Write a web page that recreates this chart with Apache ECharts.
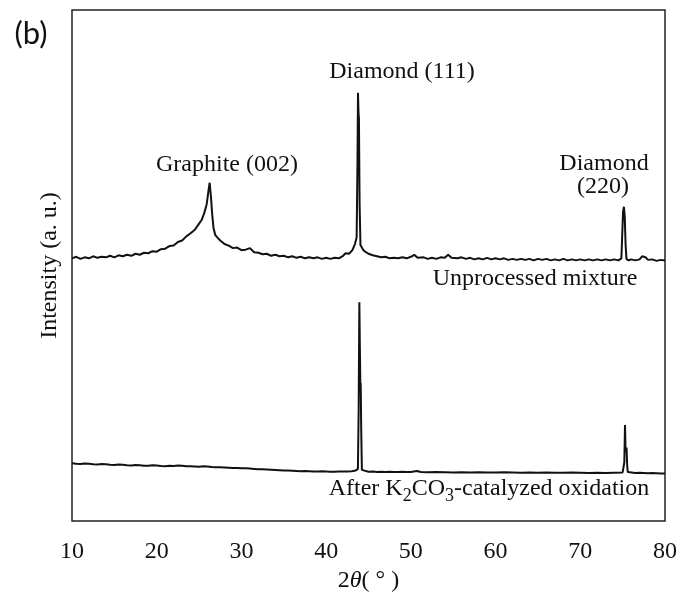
<!DOCTYPE html>
<html>
<head>
<meta charset="utf-8">
<title>XRD patterns</title>
<script src="https://cdn.jsdelivr.net/npm/echarts@6/dist/echarts.min.js"></script>
<style>
  html, body { margin: 0; padding: 0; background: #ffffff; }
  #chart { width: 680px; height: 601px; }
</style>
</head>
<body>
<div id="chart"></div>
<script>
// 2θ tick labels
const twoThetaTicks = [10, 20, 30, 40, 50, 60, 70, 80];

// Unprocessed mixture: [2θ (deg), intensity (a.u.)]
const unprocessed = [
  [10.0, 51.4], [10.5, 51.7], [11.0, 51.3], [11.5, 51.6], [12.0, 51.4], [12.5, 51.8],
  [13.0, 51.5], [13.5, 51.7], [14.0, 51.6], [14.5, 51.9], [15.0, 51.6], [15.5, 52.0],
  [16.0, 51.8], [16.5, 52.1], [17.0, 51.9], [17.5, 52.3], [18.0, 52.1], [18.5, 52.5],
  [19.0, 52.4], [19.5, 52.8], [20.0, 52.7], [20.5, 53.2], [21.0, 53.3], [21.5, 53.8],
  [22.0, 53.9], [22.5, 54.6], [23.0, 54.9], [23.5, 55.7], [24.0, 56.3], [24.5, 57.0],
  [25.0, 58.2], [25.3, 58.9], [25.6, 60.2], [25.9, 62.0], [26.1, 64.5], [26.25, 66.2],
  [26.4, 63.5], [26.55, 60.0], [26.7, 57.4], [26.9, 56.0], [27.2, 55.4], [27.5, 54.9],
  [28.0, 54.2], [28.5, 53.9], [29.0, 53.4], [29.5, 53.5], [30.0, 53.0], [30.5, 53.1],
  [31.0, 53.4], [31.5, 52.6], [32.0, 52.5], [32.5, 52.2], [33.0, 52.3], [33.5, 51.9],
  [34.0, 52.1], [34.5, 51.8], [35.0, 51.9], [35.5, 51.6], [36.0, 51.8], [36.5, 51.5],
  [37.0, 51.7], [37.5, 51.4], [38.0, 51.6], [38.5, 51.4], [39.0, 51.6], [39.5, 51.3],
  [40.0, 51.5], [40.5, 51.3], [41.0, 51.5], [41.5, 51.4], [42.0, 51.9], [42.3, 52.4],
  [42.7, 52.3], [43.1, 53.0], [43.4, 54.2], [43.6, 55.5], [43.7, 70.0], [43.76, 83.8],
  [43.82, 80.0], [43.87, 78.8], [43.95, 62.0], [44.05, 54.0], [44.2, 53.8], [44.4, 53.0],
  [44.7, 52.6], [45.0, 52.3], [45.5, 52.0], [46.0, 51.8], [46.5, 51.6], [47.0, 51.7],
  [47.5, 51.4], [48.0, 51.5], [48.5, 51.4], [49.0, 51.6], [49.5, 51.4], [50.0, 51.7],
  [50.4, 52.1], [50.8, 51.5], [51.5, 51.6], [52.0, 51.3], [52.5, 51.5], [53.0, 51.3],
  [53.5, 51.6], [54.0, 51.5], [54.4, 52.1], [54.8, 51.5], [55.5, 51.4], [56.0, 51.6],
  [56.5, 51.3], [57.0, 51.5], [57.5, 51.2], [58.0, 51.4], [58.5, 51.2], [59.0, 51.5],
  [59.5, 51.2], [60.0, 51.4], [60.5, 51.2], [61.0, 51.4], [61.5, 51.1], [62.0, 51.3],
  [62.5, 51.1], [63.0, 51.3], [63.5, 51.1], [64.0, 51.3], [64.5, 51.0], [65.0, 51.3],
  [65.5, 51.1], [66.0, 51.3], [66.5, 51.0], [67.0, 51.2], [67.5, 51.0], [68.0, 51.3],
  [68.5, 51.0], [69.0, 51.2], [69.5, 51.0], [70.0, 51.2], [70.5, 51.0], [71.0, 51.2],
  [71.5, 51.0], [72.0, 51.2], [72.5, 51.0], [73.0, 51.2], [73.5, 51.0], [74.0, 51.2],
  [74.5, 51.0], [74.85, 51.4], [74.95, 56.0], [75.05, 60.5], [75.15, 61.5], [75.25, 59.5],
  [75.35, 54.0], [75.45, 51.3], [75.7, 51.0], [76.0, 51.2], [76.5, 51.0], [77.0, 51.2],
  [77.3, 51.8], [77.5, 52.1], [77.7, 51.6], [78.0, 51.1], [78.5, 51.2], [79.0, 50.9],
  [79.5, 51.1], [80.0, 51.0]
];

// After K2CO3-catalyzed oxidation: [2θ (deg), intensity (a.u.)]
const oxidized = [
  [10.0, 11.3], [10.5, 11.2], [11.0, 11.15], [11.5, 11.25], [12.0, 11.2], [12.5, 11.1],
  [13.0, 11.05], [13.5, 11.15], [14.0, 11.1], [14.5, 11.0], [15.0, 10.95], [15.5, 11.05],
  [16.0, 11.0], [16.5, 10.9], [17.0, 10.85], [17.5, 10.95], [18.0, 10.9], [18.5, 10.8],
  [19.0, 10.8], [19.5, 10.9], [20.0, 10.85], [20.5, 10.75], [21.0, 10.7], [21.5, 10.8],
  [22.0, 10.75], [22.5, 10.85], [23.0, 10.8], [23.5, 10.7], [24.0, 10.7], [24.5, 10.65],
  [25.0, 10.6], [25.5, 10.7], [26.0, 10.65], [26.5, 10.55], [27.0, 10.5], [27.5, 10.5],
  [28.0, 10.45], [28.5, 10.4], [29.0, 10.35], [29.5, 10.35], [30.0, 10.3], [30.5, 10.3],
  [31.0, 10.25], [31.5, 10.2], [32.0, 10.15], [32.5, 10.15], [33.0, 10.1], [33.5, 10.05],
  [34.0, 10.0], [34.5, 9.95], [35.0, 9.9], [35.5, 9.9], [36.0, 9.85], [36.5, 9.8],
  [37.0, 9.75], [37.5, 9.8], [38.0, 9.75], [38.5, 9.7], [39.0, 9.7], [39.5, 9.75],
  [40.0, 9.7], [40.5, 9.65], [41.0, 9.65], [41.5, 9.7], [42.0, 9.7], [42.5, 9.7],
  [43.0, 9.75], [43.5, 9.9], [43.75, 10.2], [43.84, 22.0], [43.92, 42.8], [43.98, 34.0],
  [44.04, 26.5], [44.08, 27.0], [44.14, 18.0], [44.22, 10.0], [44.4, 9.75], [45.0, 9.65],
  [45.5, 9.7], [46.0, 9.6], [46.5, 9.65], [47.0, 9.6], [47.5, 9.65], [48.0, 9.6],
  [48.5, 9.6], [49.0, 9.65], [49.5, 9.6], [50.0, 9.6], [50.7, 9.8], [51.2, 9.6],
  [52.0, 9.55], [53.0, 9.6], [54.0, 9.55], [55.0, 9.5], [56.0, 9.55], [57.0, 9.5],
  [58.0, 9.55], [59.0, 9.5], [60.0, 9.5], [61.0, 9.55], [62.0, 9.5], [63.0, 9.45],
  [64.0, 9.5], [65.0, 9.45], [66.0, 9.5], [67.0, 9.45], [68.0, 9.45], [69.0, 9.5],
  [70.0, 9.45], [71.0, 9.4], [72.0, 9.45], [73.0, 9.4], [74.0, 9.45], [75.0, 9.5],
  [75.12, 9.7], [75.2, 11.5], [75.28, 18.8], [75.34, 14.0], [75.4, 13.5], [75.46, 14.4],
  [75.53, 11.0], [75.6, 9.6], [75.8, 9.45], [76.5, 9.4], [77.0, 9.45], [77.5, 9.4],
  [78.0, 9.35], [78.5, 9.4], [79.0, 9.35], [79.5, 9.3], [80.0, 9.3]
];

const serif = "'Liberation Serif', 'Times New Roman', serif";
const ink = '#111111';

const chart = echarts.init(document.getElementById('chart'), null, { renderer: 'canvas' });

chart.setOption({
  animation: false,
  backgroundColor: '#ffffff',
  grid: {
    left: 72, right: 15, top: 10, bottom: 80,
    show: true,
    borderColor: '#222222',
    borderWidth: 1.5,
    backgroundColor: 'transparent'
  },
  xAxis: {
    type: 'value',
    min: twoThetaTicks[0],
    max: twoThetaTicks[twoThetaTicks.length - 1],
    interval: twoThetaTicks[1] - twoThetaTicks[0],
    axisLine: { show: false },
    axisTick: { show: false },
    splitLine: { show: false },
    axisLabel: {
      margin: 19,
      color: ink,
      fontFamily: serif,
      fontSize: 24,
      formatter: v => (twoThetaTicks.indexOf(v) >= 0 ? String(v) : '')
    },
    name: '{n|2}{i|θ}{n|( ° )}',
    nameLocation: 'middle',
    nameGap: 43,
    nameTextStyle: {
      rich: {
        n: { fontFamily: serif, fontSize: 24, color: ink },
        i: { fontFamily: serif, fontSize: 24, fontStyle: 'italic', color: ink }
      }
    }
  },
  yAxis: {
    type: 'value',
    min: 0,
    max: 100,
    axisLine: { show: false },
    axisTick: { show: false },
    axisLabel: { show: false },
    splitLine: { show: false },
    name: 'Intensity (a. u.)',
    nameLocation: 'middle',
    nameGap: 10,
    nameTextStyle: { fontFamily: serif, fontSize: 24, color: ink }
  },
  series: [
    {
      name: 'Unprocessed mixture',
      type: 'line',
      data: unprocessed,
      showSymbol: false,
      lineStyle: { color: ink, width: 2 },
      z: 3
    },
    {
      name: 'After K2CO3-catalyzed oxidation',
      type: 'line',
      data: oxidized,
      showSymbol: false,
      lineStyle: { color: ink, width: 2 },
      z: 3
    }
  ],
  graphic: [
    { type: 'text', x: 31, y: 34,
      style: { text: '(b)', font: "31px Lato, 'Open Sans', sans-serif", fill: ink, align: 'center', verticalAlign: 'middle' } },
    { type: 'text', x: 227, y: 165,
      style: { text: 'Graphite (002)', font: '24px ' + serif, fill: ink, align: 'center', verticalAlign: 'middle' } },
    { type: 'text', x: 402, y: 72,
      style: { text: 'Diamond (111)', font: '24px ' + serif, fill: ink, align: 'center', verticalAlign: 'middle' } },
    { type: 'text', x: 604, y: 164,
      style: { text: 'Diamond', font: '24px ' + serif, fill: ink, align: 'center', verticalAlign: 'middle' } },
    { type: 'text', x: 603, y: 187,
      style: { text: '(220)', font: '24px ' + serif, fill: ink, align: 'center', verticalAlign: 'middle' } },
    { type: 'text', x: 535, y: 279,
      style: { text: 'Unprocessed mixture', font: '24px ' + serif, fill: ink, align: 'center', verticalAlign: 'middle' } },
    { type: 'text', x: 489, y: 491,
      style: {
        text: '{t|After K}{s|2}{t|CO}{s|3}{t|-catalyzed oxidation}',
        align: 'center', verticalAlign: 'middle',
        rich: {
          t: { fontFamily: serif, fontSize: 24, fill: ink, color: ink, lineHeight: 28, verticalAlign: 'top' },
          s: { fontFamily: serif, fontSize: 18, fill: ink, color: ink, lineHeight: 28, verticalAlign: 'bottom' }
        }
      } }
  ]
});
</script>
</body>
</html>
